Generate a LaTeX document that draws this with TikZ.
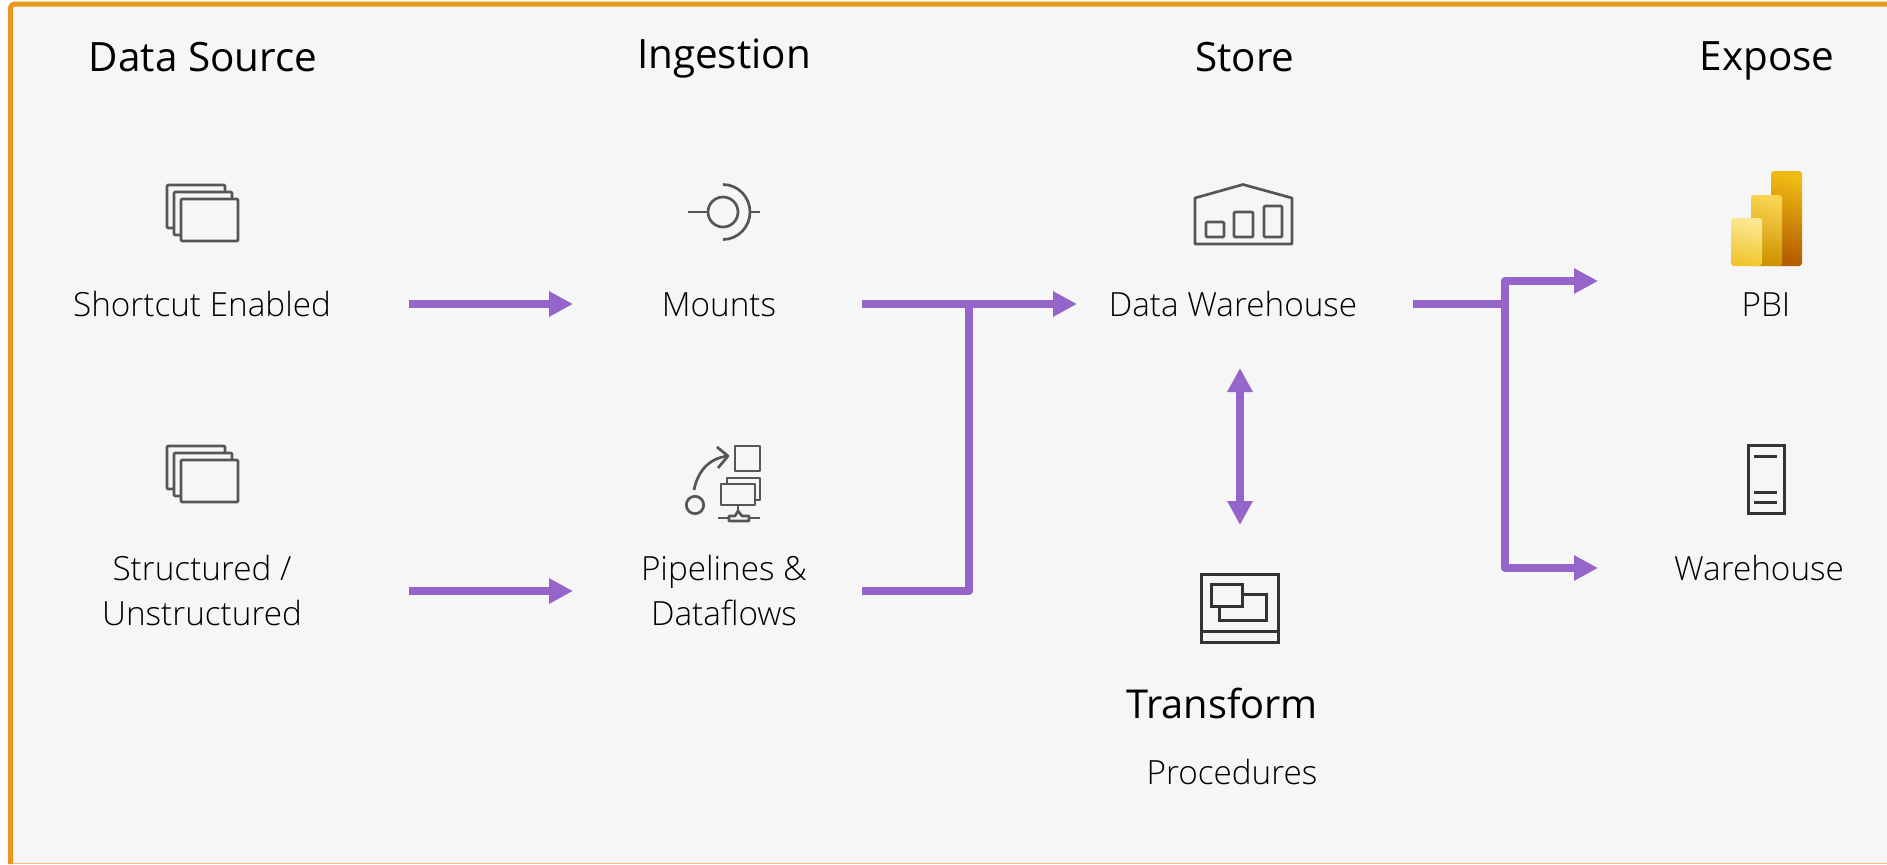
\documentclass[tikz,border=0pt]{standalone}
\usepackage{fontspec}
\setmainfont{Open Sans}
\newfontfamily\lightf{Open Sans Light}
\usetikzlibrary{arrows.meta}
\definecolor{bgc}{HTML}{F6F6F6}
\definecolor{framec}{HTML}{E8981F}
\definecolor{purp}{HTML}{9565C9}
\definecolor{icong}{HTML}{565656}
\definecolor{icond}{HTML}{333333}
\definecolor{pbiAt}{HTML}{EFBB12}
\definecolor{pbiAb}{HTML}{B45C00}
\definecolor{pbiBt}{HTML}{F8D44F}
\definecolor{pbiBb}{HTML}{CE9200}
\definecolor{pbiCt}{HTML}{FBE893}
\definecolor{pbiCb}{HTML}{F0C52C}
\tikzset{
  x=0.5pt,y=-0.5pt,
  titlelabel/.style={inner sep=0pt,anchor=base,font=\fontsize{20.2}{24}\selectfont,text=black},
  translabel/.style={titlelabel,font=\fontsize{19.9}{24}\selectfont},
  itemlabel/.style={inner sep=0pt,anchor=base,font=\lightf\fontsize{16.65}{22}\selectfont,text=black},
  flow/.style={draw=purp,line width=4pt,line join=round},
  flowend/.style={flow,-{Triangle[length=12pt,width=12pt]}},
  flowboth/.style={flow,{Triangle[length=12pt,width=12pt]}-{Triangle[length=12pt,width=12pt]}},
  iconline/.style={draw=icong,line width=1.35pt,line join=round},
  icondark/.style={draw=icond,line width=1.5pt},
  pbibar/.style n args={2}{rounded corners=1.5pt,top color=#1,bottom color=#2,shading angle=-15},
}
\newcommand{\stackicon}[1]{%
  \begin{scope}[yshift=#1*-0.5pt]
    \draw[iconline,fill=bgc,rounded corners=0.5pt] (167,185) rectangle (225,228);
    \draw[iconline,fill=bgc,rounded corners=0.5pt] (174,192) rectangle (232,235);
    \draw[iconline,fill=bgc,rounded corners=0.5pt] (181,199) rectangle (238,241);
  \end{scope}}
\begin{document}
\begin{tikzpicture}
\useasboundingbox (0,0) rectangle (1887,864);
\fill[white] (0,0) rectangle (1887,864);
\fill[bgc] (10,3) rectangle (1887,864);
\draw[draw=framec,line width=2.5pt,rounded corners=2pt] (10.5,864) -- (10.5,4) -- (1887,4);
\draw[draw=framec!60!white,line width=0.6pt] (13,863.4) -- (1887,863.4);
% titles
\node[titlelabel] (tsource) at (203,71) {Data Source};
\node[titlelabel] (tingest) at (724,68) {Ingestion};
\node[titlelabel] (tstore) at (1245,71) {Store};
\node[titlelabel] (texpose) at (1767,70.5) {Expose};
\node[translabel] (ttrans) at (1222,718) {Transform};
% labels
\node[itemlabel] (shortcut) at (202,316) {Shortcut Enabled};
\node[itemlabel] (structured) at (202,580) {Structured /};
\node[itemlabel] (unstructured) at (202,625) {Unstructured};
\node[itemlabel] (mounts) at (719,316) {Mounts};
\node[itemlabel] (pipelines) at (724,580) {Pipelines \&};
\node[itemlabel] (dataflows) at (724,625) {Dataflows};
\node[itemlabel] (dw) at (1233,316) {Data Warehouse};
\node[itemlabel] (procs) at (1232,784) {Procedures};
\node[itemlabel] (pbi) at (1766,316) {PBI};
\node[itemlabel] (wh) at (1759,580) {Warehouse};
% connector ends
\coordinate (a1s) at (409,304); \coordinate (a1e) at (573,304);
\coordinate (a2s) at (409,591); \coordinate (a2e) at (573,591);
\coordinate (a3s) at (862,304); \coordinate (a3e) at (1077,304);
\coordinate (a4s) at (862,591); \coordinate (j1) at (969,304);
\coordinate (a5s) at (1413,304); \coordinate (j2) at (1505,304);
\coordinate (a6e) at (1598,281); \coordinate (a7e) at (1598,568);
\coordinate (a8s) at (1240,368); \coordinate (a8e) at (1240,525);
\draw[flowend] (a1s) -- (a1e);
\draw[flowend] (a2s) -- (a2e);
\draw[flowend] (a3s) -- (a3e);
\draw[flow] (a4s) -| (j1);
\draw[flow] (a5s) -- (j2);
\draw[flowend] (j2) |- (a6e);
\draw[flowend] (j2) |- (a7e);
\draw[flowboth] (a8s) -- (a8e);
% stack icons
\stackicon{0}
\stackicon{261}
% mounts icon
\draw[iconline] (723,212) circle[radius=15];
\draw[iconline] (688,212) -- (708,212);
\draw[iconline] (750,212) -- (760,212);
\draw[iconline] (723,184.5) .. controls (738,184.5) and (750,197) .. (750,212) .. controls (750,227) and (738,239.5) .. (723,239.5);
% pipelines icon
\draw[iconline] (695,505) circle[radius=8.7];
\draw[iconline] (694,490) .. controls (698,470) and (710,458) .. (728,456);
\draw[iconline] (717,447) -- (728,456) -- (718,468);
\draw[iconline] (735,446) rectangle (760,471);
\draw[iconline] (727,478) rectangle (760,500);
\draw[iconline,fill=bgc] (721,484) rectangle (755,505);
\draw[iconline] (738,505) -- (738,511);
\draw[iconline] (718,518) -- (729,518);
\draw[iconline] (749,518) -- (760,518);
\draw[iconline] (729,521) -- (729,516) -- (735,516) -- (738,511) -- (742,516) -- (749,516) -- (749,521) -- cycle;
% warehouse icon
\draw[iconline] (1195,198) -- (1243,184.5) -- (1292,198) -- (1292,244) -- (1195,244) -- cycle;
\draw[iconline,rounded corners=0.5pt] (1206,222) rectangle (1224,237);
\draw[iconline,rounded corners=0.5pt] (1234,212) rectangle (1253,237);
\draw[iconline,rounded corners=0.5pt] (1264,206) rectangle (1282,237);
% transform icon
\draw[icondark] (1201,574) rectangle (1278,642);
\draw[icondark] (1201,631) -- (1278,631);
\draw[icondark] (1219,594) rectangle (1266,620);
\draw[icondark,fill=bgc] (1211,584) rectangle (1242,606);
% pbi icon
\shade[pbibar={pbiAt}{pbiAb}] (1771,171) rectangle (1802,266);
\shade[pbibar={pbiBt}{pbiBb}] (1751,195) rectangle (1782,266);
\shade[pbibar={pbiCt}{pbiCb}] (1731,218) rectangle (1762,266);
% server icon
\draw[icondark] (1748,445) rectangle (1784,513);
\draw[icondark] (1754,456) -- (1777,456);
\draw[icondark] (1754,492) -- (1777,492);
\draw[icondark] (1754,502) -- (1777,502);
\draw[icondark] (1784,477) -- (1786,477);
\end{tikzpicture}
\end{document}
